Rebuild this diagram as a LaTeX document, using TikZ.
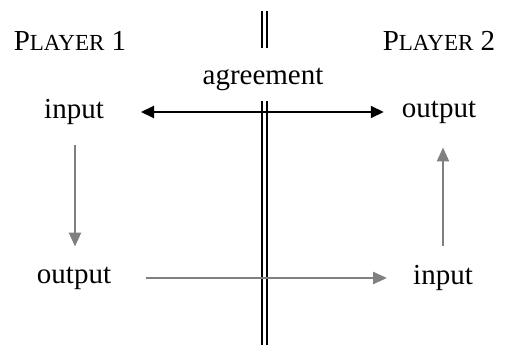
\documentclass[tikz,border=0pt]{standalone}
\usepackage{fontspec}
\setmainfont{Liberation Serif}
\usetikzlibrary{arrows.meta}
\newcommand{\smcap}[1]{{\fontsize{23}{25}\selectfont #1}}
\begin{document}
\begin{tikzpicture}[
    x=1pt, y=-1pt,
    label/.style={font=\fontsize{29}{31}\selectfont, inner sep=2pt},
    deal/.style={line width=2pt, {Triangle[length=13pt,width=12pt]}-{Triangle[length=13pt,width=12pt]}},
    flow/.style={line width=2.4pt, draw=gray, -{Triangle[length=14pt,width=12pt]}},
    wall/.style={line width=2pt},
]
    \useasboundingbox (0,0) rectangle (505,345);

    % Player headers
    \node[label] (p1) at (70, 41) {P\smcap{LAYER} 1};
    \node[label] (p2) at (439, 41) {P\smcap{LAYER} 2};
    \node[label] (agree) at (263, 79) {agreement};

    % Divider
    \draw[wall] (261.5, 11) -- (261.5, 48);
    \draw[wall] (266.5, 11) -- (266.5, 48);
    \draw[wall] (261.5, 101) -- (261.5, 345);
    \draw[wall] (266.5, 101) -- (266.5, 345);

    % Inputs and outputs
    \node[label] (in1) at (74, 112) {input};
    \node[label] (out1) at (439, 112) {output};
    \node[label] (out2) at (74, 278) {output};
    \node[label] (in2) at (443, 278) {input};

    % Arrows
    \draw[deal, shorten <=35pt, shorten >=16pt] (in1.east |- 0,112) -- (out1.west |- 0,112);
    \draw[flow, shorten <=18pt, shorten >=18pt] (in1.south -| 75,0) -- (out2.north -| 75,0);
    \draw[flow, shorten <=33pt, shorten >=24pt] (out2.east |- 0,278) -- (in2.west |- 0,278);
    \draw[flow, shorten <=17pt, shorten >=22pt] (in2.north) -- (out1.south -| 443,0);
\end{tikzpicture}
\end{document}
